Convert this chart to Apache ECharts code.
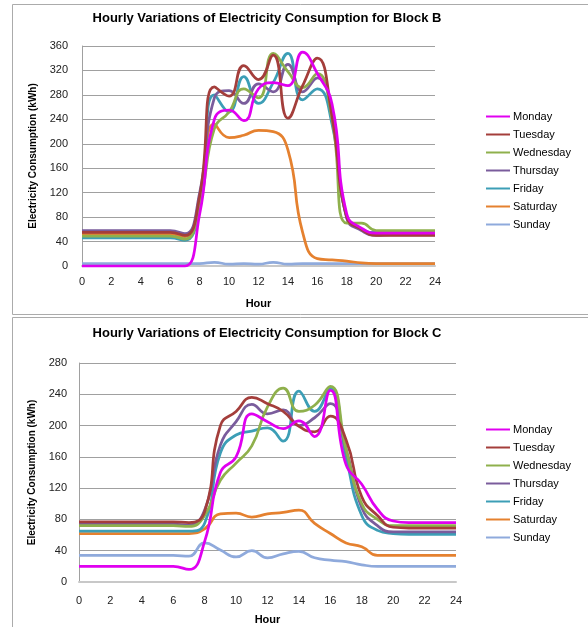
<!DOCTYPE html>
<html><head><meta charset="utf-8">
<script src="https://cdn.jsdelivr.net/npm/echarts@6/dist/echarts.min.js"></script>
<style>html,body{margin:0;padding:0;background:#fff;overflow:hidden}#c{width:588px;height:627px}</style>
</head><body><div id="c"></div>
<script>
const hours = [0,1,2,3,4,5,6,7,8,9,10,11,12,13,14,15,16,17,18,19,20,21,22,23,24];
const days = ['Monday','Tuesday','Wednesday','Thursday','Friday','Saturday','Sunday'];

// Block B (kWh per hour)
const B_Monday    = [0,0,0,0,0,0,0,0,85,240,255,238,290,300,295,350,315,265,85,62,54,54,54,54,54];
const B_Tuesday   = [55,55,55,55,55,55,55,50,115,293,278,328,305,345,242,295,340,245,80,60,50,50,50,50,50];
const B_Wednesday = [49,49,49,49,49,49,49,44,100,225,252,290,275,348,318,292,315,240,70,70,58,58,58,58,58];
const B_Thursday  = [58,58,58,58,58,58,58,53,120,275,287,266,298,285,330,285,308,250,78,58,50,51,51,51,51];
const B_Friday    = [46,46,46,46,46,46,46,42,100,280,252,310,266,300,348,272,290,232,80,60,55,56,56,56,56];
const B_Saturday  = [52,52,52,52,52,52,52,48,100,232,210,214,222,220,190,55,12,10,8,5,4,4,4,4,4];
const B_Sunday    = [4,4,4,4,4,4,4,4,4,6,3,4,3,6,3,4,4,4,4,4,4,4,4,4,4];

// Block C (kWh per hour)
const C_Monday    = [20,20,20,20,20,20,20,16,52,140,160,215,205,196,206,186,245,150,125,93,78,76,76,76,76];
const C_Tuesday   = [77,77,77,77,77,77,77,76,90,200,218,236,228,218,199,192,212,182,109,85,70,69,69,69,69];
const C_Wednesday = [72,72,72,72,72,72,72,71,85,130,152,174,224,248,218,226,250,170,100,80,72,72,72,72,72];
const C_Thursday  = [74,74,74,74,74,74,74,73,92,175,205,227,215,220,200,210,228,170,95,72,64,64,64,64,64];
const C_Friday    = [65,65,65,65,65,65,65,65,75,165,188,193,197,180,244,218,248,160,85,66,62,61,61,61,61];
const C_Saturday  = [62,62,62,62,62,62,62,62,68,87,88,83,87,89,92,75,62,50,45,34,34,34,34,34,34];
const C_Sunday    = [34,34,34,34,34,34,34,33,50,41,32,40,31,36,39,31,28,26,22,20,20,20,20,20,20];

const colors = ['#E000F0','#A43E3B','#8FB04C','#7A5C9C','#3C9EB6','#E5812F','#8FAADC'];
const blockB = [B_Monday,B_Tuesday,B_Wednesday,B_Thursday,B_Friday,B_Saturday,B_Sunday];
const blockC = [C_Monday,C_Tuesday,C_Wednesday,C_Thursday,C_Friday,C_Saturday,C_Sunday];

const FONT = '"Liberation Sans", Arial, sans-serif';
const chart = echarts.init(document.getElementById('c'), null, {renderer:'canvas'});

function mkSeries(block, idx){
  return block.map((vals,i)=>({
    name: days[i], type:'line', xAxisIndex: idx, yAxisIndex: idx,
    data: hours.map((h,j)=>[h, vals[j]]),
    smooth: 0.5, showSymbol:false, symbol:'none',
    lineStyle:{width:2.75, color: colors[i]}, itemStyle:{color: colors[i]},
    z: 10 - i
  }));
}
function xAx(idx){
  return {type:'value', gridIndex: idx, min:0, max:24, interval:2,
    name:'Hour', nameLocation:'middle', nameGap: 32,
    nameTextStyle:{fontFamily:FONT, fontWeight:'bold', fontSize:11, color:'#000'},
    axisLine:{show:true, lineStyle:{color:'#C8C8C8', width:2}},
    axisTick:{show:false}, splitLine:{show:false},
    axisLabel:{fontFamily:FONT, fontSize:11, color:'#222', margin: idx===0?10:13}};
}
function yAx(idx, max){
  return {type:'value', gridIndex: idx, min:0, max:max, interval:40,
    name:'Electricity Consumption (kWh)', nameLocation:'middle', nameGap: idx===0?42:41, nameRotate:90,
    nameTextStyle:{fontFamily:FONT, fontWeight:'bold', fontSize:10, color:'#000'},
    axisLine:{show:true, lineStyle:{color:'#A0A0A0', width:1}},
    axisTick:{show:false},
    splitLine:{show:true, lineStyle:{color:'#A0A0A0', width:1}},
    axisLabel:{fontFamily:FONT, fontSize:11, color:'#222', margin: idx===0?14:12}};
}
function legend(top){
  return {orient:'vertical', left:486, top:top, padding:0, itemWidth:24, itemHeight:2, icon:'rect', itemGap:7,
    data: days,
    textStyle:{fontFamily:FONT, fontSize:11, color:'#000', padding:[0,0,0,-2]}};
}

chart.setOption({
  animation:false,
  backgroundColor:'#fff',
  color: colors,
  graphic:[
    {type:'rect', shape:{x:12.5,y:4.5,width:600,height:310}, style:{fill:'none', stroke:'#ABABAB', lineWidth:1}},
    {type:'rect', shape:{x:12.5,y:317.5,width:600,height:330}, style:{fill:'none', stroke:'#ABABAB', lineWidth:1}}
  ],
  title:[
    {text:'Hourly Variations of Electricity Consumption for Block B', left:267, top:12, textAlign:'center', padding:0,
      textStyle:{fontFamily:FONT, fontWeight:'bold', fontSize:13, color:'#000'}},
    {text:'Hourly Variations of Electricity Consumption for Block C', left:267, top:327, textAlign:'center', padding:0,
      textStyle:{fontFamily:FONT, fontWeight:'bold', fontSize:13, color:'#000'}}
  ],
  legend:[legend(111), legend(424)],
  grid:[
    {left:82, top:46, width:353, height:220},
    {left:79, top:363, width:377, height:219}
  ],
  xAxis:[xAx(0), xAx(1)],
  yAxis:[yAx(0,360), yAx(1,280)],
  series: mkSeries(blockB,0).concat(mkSeries(blockC,1))
});
</script></body></html>
